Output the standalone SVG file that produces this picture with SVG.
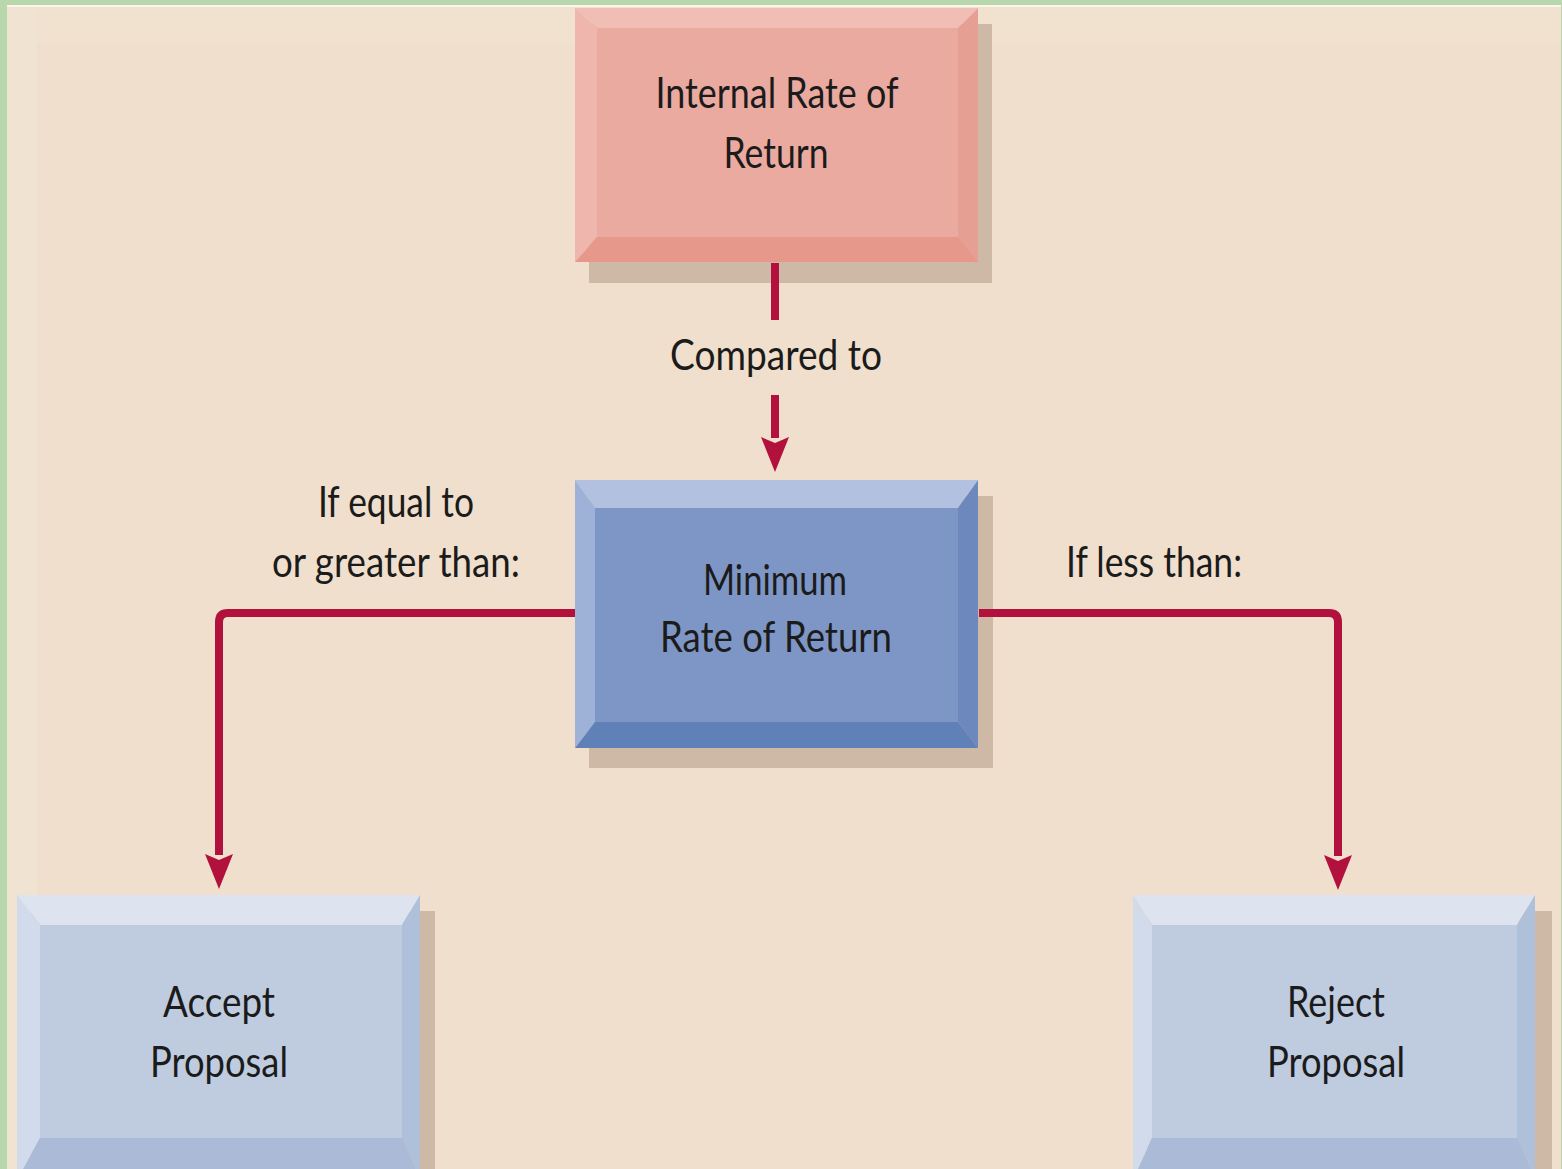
<svg xmlns="http://www.w3.org/2000/svg" width="1562" height="1169" viewBox="0 0 1562 1169">
  <style>
    .lbl { font-family: Lato, "Liberation Sans", sans-serif; font-size: 42px; fill: #1b1b1b; text-anchor: middle; }
    .con { fill: none; stroke: #B3113D; stroke-width: 8; stroke-linejoin: round; }
    .shadow { fill: #CDB9A6; }
  </style>
  <defs>
    <marker id="arr" markerUnits="userSpaceOnUse" markerWidth="36" markerHeight="28" refX="1" refY="14" orient="auto" viewBox="0 0 36 28">
      <path d="M0,0 L35,14 L0,28 L6,14 z" fill="#B3113D"/>
    </marker>
  </defs>

  <!-- background -->
  <rect x="0" y="0" width="1562" height="1169" fill="#B8D7AC"/>
  <rect x="7" y="5" width="1554" height="1164" fill="#F0DFCC"/>
  <rect x="7" y="5" width="1554" height="2" fill="#FBF6EC"/>
  <rect x="7" y="7" width="1554" height="36" fill="#F1E2D0"/>
  <rect x="7" y="7" width="30" height="1162" fill="#F1E3D2"/>

  <!-- IRR node -->
  <g id="node-irr">
    <rect class="shadow" x="589" y="24" width="403" height="259"/>
    <rect x="597" y="28" width="361" height="209" fill="#EBAAA0"/>
    <polygon points="575,8 978,8 958,28 597,28" fill="#F0BEB5"/>
    <polygon points="575,8 597,28 597,237 575,262" fill="#EEB6AC"/>
    <polygon points="978,8 978,262 958,237 958,28" fill="#E5A093"/>
    <polygon points="575,262 597,237 958,237 978,262" fill="#E6988B"/>
    <text class="lbl" x="777" y="108" textLength="243" lengthAdjust="spacingAndGlyphs">Internal Rate of</text>
    <text class="lbl" x="776" y="168" textLength="105" lengthAdjust="spacingAndGlyphs">Return</text>
  </g>

  <!-- Minimum node -->
  <g id="node-min">
    <rect class="shadow" x="589" y="496" width="404" height="272"/>
    <rect x="595" y="508" width="363" height="214" fill="#7E96C5"/>
    <polygon points="575,480 978,480 958,508 595,508" fill="#B1C1DF"/>
    <polygon points="575,480 595,508 595,722 575,748" fill="#9EB1D7"/>
    <polygon points="978,480 978,748 958,722 958,508" fill="#6D88BC"/>
    <polygon points="575,748 595,722 958,722 978,748" fill="#6080B8"/>
    <text class="lbl" x="775" y="595" textLength="144" lengthAdjust="spacingAndGlyphs">Minimum</text>
    <text class="lbl" x="776" y="652" textLength="232" lengthAdjust="spacingAndGlyphs">Rate of Return</text>
  </g>

  <!-- Accept node -->
  <g id="node-accept">
    <rect class="shadow" x="31" y="911" width="404" height="270"/>
    <rect x="40" y="925" width="362" height="213" fill="#BFCCE0"/>
    <polygon points="17,895 420,895 402,925 40,925" fill="#DDE3EF"/>
    <polygon points="17,895 40,925 40,1138 17,1180" fill="#D1DBEB"/>
    <polygon points="420,895 420,1180 402,1138 402,925" fill="#AFC0DB"/>
    <polygon points="17,1180 40,1138 402,1138 420,1180" fill="#AABAD7"/>
    <text class="lbl" x="219" y="1017" textLength="112" lengthAdjust="spacingAndGlyphs">Accept</text>
    <text class="lbl" x="219" y="1077" textLength="138" lengthAdjust="spacingAndGlyphs">Proposal</text>
  </g>

  <!-- Reject node -->
  <g id="node-reject">
    <rect class="shadow" x="1147" y="911" width="405" height="270"/>
    <rect x="1152" y="925" width="365" height="213" fill="#BFCCE0"/>
    <polygon points="1133,895 1535,895 1517,925 1152,925" fill="#DDE3EF"/>
    <polygon points="1133,895 1152,925 1152,1138 1133,1180" fill="#D1DBEB"/>
    <polygon points="1535,895 1535,1180 1517,1138 1517,925" fill="#AFC0DB"/>
    <polygon points="1133,1180 1152,1138 1517,1138 1535,1180" fill="#AABAD7"/>
    <text class="lbl" x="1336" y="1017" textLength="98" lengthAdjust="spacingAndGlyphs">Reject</text>
    <text class="lbl" x="1336" y="1077" textLength="138" lengthAdjust="spacingAndGlyphs">Proposal</text>
  </g>

  <!-- connectors -->
  <g id="connectors">
    <line class="con" x1="775" y1="263" x2="775" y2="320"/>
    <line class="con" x1="775" y1="395" x2="775" y2="438" marker-end="url(#arr)"/>
    <path class="con" d="M575,613 H228 Q219,613 219,622 V855" marker-end="url(#arr)"/>
    <path class="con" d="M979,613 H1329 Q1338,613 1338,622 V856" marker-end="url(#arr)"/>
  </g>

  <!-- connector labels -->
  <g id="labels">
    <text class="lbl" x="776" y="370" textLength="212" lengthAdjust="spacingAndGlyphs">Compared to</text>
    <text class="lbl" x="396" y="517" textLength="156" lengthAdjust="spacingAndGlyphs">If equal to</text>
    <text class="lbl" x="396" y="577" textLength="248" lengthAdjust="spacingAndGlyphs">or greater than:</text>
    <text class="lbl" x="1154" y="577" textLength="176" lengthAdjust="spacingAndGlyphs">If less than:</text>
  </g>
</svg>
